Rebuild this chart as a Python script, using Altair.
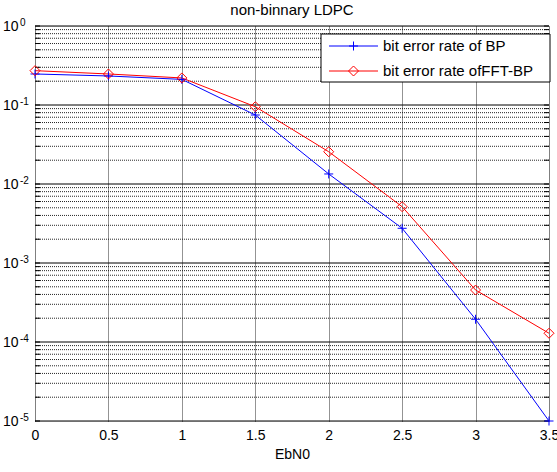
import altair as alt
import pandas as pd

# Eb/N0 points and measured bit error rates
ebn0 = [0, 0.5, 1, 1.5, 2, 2.5, 3, 3.5]
ber_bp = [0.247, 0.233, 0.211, 0.0747, 0.0134, 0.00275, 1.94e-4, 1e-5]
ber_fft_bp = [0.272, 0.247, 0.22, 0.0952, 0.0256, 0.00516, 4.55e-4, 1.29e-4]

series_names = ["bit error rate of BP", "bit error rate ofFFT-BP"]
series_colors = ["#0000ff", "#ff0000"]

x_ticks = [0, 0.5, 1, 1.5, 2, 2.5, 3, 3.5]
decade_exps = [0, -1, -2, -3, -4, -5]
chart_title = "non-binnary LDPC"

W, H = 514, 395
FONT = "Liberation Sans"

decades = [10.0 ** e for e in decade_exps]
minors = [m * 10.0 ** e for e in range(-5, 0) for m in range(2, 10)]

xscale = alt.Scale(domain=[0, 3.5], nice=False, zero=False)
yscale = alt.Scale(type="log", domain=[1e-5, 1], nice=False)

bp_df = pd.DataFrame({"ebn0": ebn0, "ber": ber_bp})
fft_df = pd.DataFrame({"ebn0": ebn0, "ber": ber_fft_bp})
minor_df = pd.DataFrame({"v": minors})
decade_df = pd.DataFrame({"v": decades, "exp": [str(e) for e in decade_exps]})
tick_df = pd.DataFrame({"v": minors + decades})

# dotted minor grid and solid decade grid
minor_grid = alt.Chart(minor_df).mark_rule(
    color="black", strokeWidth=1, strokeDash=[1, 1], opacity=0.85
).encode(y=alt.Y("v:Q", scale=yscale, axis=None))

decade_grid = alt.Chart(decade_df).mark_rule(color="black", strokeWidth=1).encode(
    y=alt.Y("v:Q", scale=yscale, axis=None)
)

# inward tick marks on the left and right edges
left_ticks = alt.Chart(tick_df).mark_rule(color="black", strokeWidth=1).encode(
    y=alt.Y("v:Q", scale=yscale, axis=None), x=alt.value(0), x2=alt.value(5)
)
right_ticks = alt.Chart(tick_df).mark_rule(color="black", strokeWidth=1).encode(
    y=alt.Y("v:Q", scale=yscale, axis=None), x=alt.value(W - 5), x2=alt.value(W)
)

x_axis = alt.Axis(
    values=x_ticks,
    grid=True,
    gridColor="black",
    gridDash=[1, 1],
    gridOpacity=0.85,
    ticks=False,
    domain=False,
    labelFontSize=14,
    labelFont=FONT,
    labelColor="black",
    labelPadding=7,
    labelFlush=False,
    labelExpr="datum.value",
    title="EbN0",
    titleFont=FONT,
    titleFontSize=14,
    titleFontWeight="normal",
    titleColor="black",
    titlePadding=5,
)

plus_path = "M-1,0L1,0M0,-1L0,1"

bp_line = alt.Chart(bp_df).mark_line(color=series_colors[0], strokeWidth=1).encode(
    x=alt.X("ebn0:Q", scale=xscale, axis=x_axis),
    y=alt.Y("ber:Q", scale=yscale, axis=None),
)
bp_pts = alt.Chart(bp_df).mark_point(
    shape=plus_path, size=81, filled=False, color=series_colors[0], strokeWidth=1, opacity=1
).encode(x=alt.X("ebn0:Q", scale=xscale), y=alt.Y("ber:Q", scale=yscale))

fft_line = alt.Chart(fft_df).mark_line(color=series_colors[1], strokeWidth=1).encode(
    x=alt.X("ebn0:Q", scale=xscale),
    y=alt.Y("ber:Q", scale=yscale),
)
fft_pts = alt.Chart(fft_df).mark_point(
    shape="diamond", size=100, filled=False, color=series_colors[1], strokeWidth=1, opacity=1
).encode(x=alt.X("ebn0:Q", scale=xscale), y=alt.Y("ber:Q", scale=yscale))

# y tick labels as 10 with a raised exponent
ylab_base = alt.Chart(decade_df).mark_text(
    text="10", align="left", baseline="alphabetic", fontSize=14, font=FONT, color="black", dy=5
).encode(y=alt.Y("v:Q", scale=yscale), x=alt.value(-32))
ylab_exp = alt.Chart(decade_df).mark_text(
    align="left", baseline="alphabetic", fontSize=10, font=FONT, color="black", dy=0
).encode(y=alt.Y("v:Q", scale=yscale), x=alt.value(-15), text="exp:N")

# chart title above the plot box
title_df = pd.DataFrame({"t": [chart_title]})
title_mark = alt.Chart(title_df).mark_text(
    align="center", baseline="alphabetic", fontSize=15, font=FONT, color="black"
).encode(x=alt.value(W / 2), y=alt.value(-11), text="t:N")

# legend box
leg_df = pd.DataFrame({"k": [0]})
legend_layers = [
    alt.Chart(leg_df).mark_rect(fill="white", stroke="black", strokeWidth=1).encode(
        x=alt.value(286), x2=alt.value(W + 1), y=alt.value(8), y2=alt.value(56)
    )
]
row_y = [20, 45]
shapes = [(plus_path, 81), ("diamond", 100)]
for name, col, ry, (shp, sz) in zip(series_names, series_colors, row_y, shapes):
    d = pd.DataFrame({"label": [name]})
    legend_layers.append(
        alt.Chart(d).mark_rule(color=col, strokeWidth=1).encode(
            x=alt.value(294), x2=alt.value(343), y=alt.value(ry)
        )
    )
    legend_layers.append(
        alt.Chart(d).mark_point(
            shape=shp, size=sz, filled=False, color=col, strokeWidth=1, opacity=1
        ).encode(x=alt.value(318.5), y=alt.value(ry))
    )
    legend_layers.append(
        alt.Chart(d).mark_text(
            align="left", baseline="middle", fontSize=15, font=FONT, color="black"
        ).encode(x=alt.value(348), y=alt.value(ry), text="label:N")
    )

chart = alt.layer(
    minor_grid,
    decade_grid,
    left_ticks,
    right_ticks,
    bp_line,
    fft_line,
    bp_pts,
    fft_pts,
    ylab_base,
    ylab_exp,
    title_mark,
    *legend_layers,
).properties(
    width=W,
    height=H,
    autosize=alt.AutoSizeParams(type="none"),
    padding={"left": 35, "top": 26, "right": 8, "bottom": 51},
).configure_view(
    stroke="black", strokeWidth=2
).configure(background="white")

chart.save("out.html", embed_options={"renderer": "svg", "actions": False})
